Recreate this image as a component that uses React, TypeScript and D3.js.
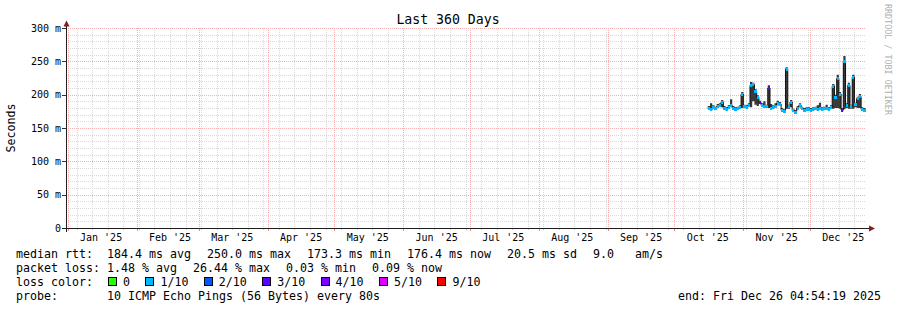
import React from "react";
import * as d3 from "d3";

const W = 897;
const H = 310;
const END = new Date(Date.UTC(2025, 11, 26, 4, 54, 19));
const START = new Date(END.getTime() - 360 * 864e5);
const SERIES_START = new Date(Date.UTC(2025, 9, 16));

const title = "Last 360 Days";
const yLabel = "Seconds";
const watermark = "RRDTOOL / TOBI OETIKER";
const yTicks = [0, 50, 100, 150, 200, 250, 300];

// daily median rtt (ms), starting Oct 16 2025
const median = [
  180, 178, 181, 179, 182, 184, 189, 180, 178, 181,
  184, 180, 178, 179, 181, 201, 182, 181, 184, 214,
  215, 205, 196, 188, 184, 183, 182, 210, 180, 181,
  183, 187, 186, 177, 175, 238, 182, 189, 176, 174,
  180, 184, 179, 177, 178, 178, 177, 178, 179, 178,
  180, 178, 179, 180, 178, 181, 213, 196, 224, 201,
  177, 250, 184, 214, 182, 226, 185, 194, 197, 178,
  177, 176.4,
];
const smokeLo = [
  178, 176, 179, 177, 180, 182, 181, 178, 176, 179,
  182, 178, 176, 177, 179, 180, 180, 179, 182, 181,
  190, 185, 183, 186, 182, 181, 180, 180, 178, 179,
  181, 184, 183, 175, 173, 179, 179, 181, 174, 172,
  178, 182, 177, 175, 176, 176, 175, 176, 177, 176,
  178, 176, 177, 178, 176, 179, 179, 180, 180, 179,
  175, 178, 180, 179, 179, 179, 181, 180, 180, 176,
  175, 174,
];
const smokeHi = [
  183, 187, 184, 182, 186, 187, 192, 183, 181, 184,
  193, 183, 181, 182, 184, 204, 185, 184, 187, 219,
  218, 208, 199, 191, 187, 190, 185, 214, 186, 184,
  187, 191, 189, 180, 178, 241, 185, 192, 179, 177,
  183, 187, 182, 180, 181, 181, 180, 181, 182, 184,
  188, 181, 182, 185, 181, 184, 216, 200, 230, 204,
  180, 258, 187, 218, 185, 230, 188, 197, 201, 181,
  180, 179,
];
const lossIdx = [
  1, 1, 1, 1, 1, 1, 1, 1, 1, 1,
  1, 1, 1, 1, 1, 1, 1, 1, 1, 1,
  1, 1, 1, 3, 1, 1, 1, 3, 1, 1,
  1, 1, 1, 1, 1, 1, 1, 1, 1, 1,
  1, 1, 1, 1, 1, 1, 1, 1, 1, 1,
  1, 1, 1, 1, 1, 1, 1, 1, 1, 1,
  3, 1, 1, 1, 1, 1, 1, 1, 1, 1,
  1, 1,
];

const lossLabels = ["0", "1/10", "2/10", "3/10", "4/10", "5/10", "9/10"];
const lossColors = ["#26ff00", "#00b8ff", "#0059ff", "#5e00ff", "#7e00ff", "#dd00ff", "#ff0000"];
const rttStats = ["median rtt:  184.4 ms avg", "250.0 ms max", "173.3 ms min", "176.4 ms now", "20.5 ms sd", "9.0   am/s"];
const lossStats = ["packet loss: 1.48 % avg", "26.44 % max", "0.03 % min", "0.09 % now"];
const lossColorLabel = "loss color:";
const probeText = "probe:       10 ICMP Echo Pings (56 Bytes) every 80s";
const endText = "end: Fri Dec 26 04:54:19 2025";

const MONO = "'DejaVu Sans Mono', monospace";
const L = 66, R = 866, T = 28, B = 228;
const CW = 7; // legend char advance
const LEG_FS = 11.63;
const AX_FS = 10;

export default function App() {
  const x = d3.scaleUtc().domain([START, END]).range([L, R]);
  const y = d3.scaleLinear().domain([0, 300]).range([B, T]);

  const days = median.map((_, i) => d3.utcDay.offset(SERIES_START, i));
  const xs = days.map((d) => x(d));
  const xNext = (i: number) => (i + 1 < xs.length ? xs[i + 1] : x(END));

  const minorY = d3.range(0, 301, 10).filter((v) => v % 50 !== 0);
  const weeks = d3.utcSunday.range(START, END);
  const months = d3.utcMonth.range(START, END);
  const monthLabels = d3.utcMonth
    .range(d3.utcMonth.floor(START), END)
    .map((m) => d3.utcDay.offset(m, 15))
    .filter((d) => d >= START && d <= END);
  const fmt = d3.utcFormat("%b '%y");

  const pts: [number, number][] = median.map((v, i) => [xs[i], y(v)]);
  pts.push([x(END), y(median[median.length - 1])]);
  const line = d3.line().curve(d3.curveStepAfter)(pts) || "";

  const areaPts = median.map((_, i) => i);
  areaPts.push(median.length - 1);
  const area =
    d3
      .area<number>()
      .curve(d3.curveStepAfter)
      .x((i, k) => (k < median.length ? xs[i] : x(END)))
      .y0((i) => y(smokeLo[i]))
      .y1((i) => y(smokeHi[i]))(areaPts) || "";

  const rowX = (items: string[]) => {
    const out: number[] = [];
    let cx = 16;
    items.forEach((s) => {
      out.push(cx);
      cx += s.length * CW + 16;
    });
    return out;
  };
  const rttX = rowX(rttStats);
  const lossX = rowX(lossStats);
  const boxes: { bx: number; tx: number }[] = [];
  let bx = 16 + lossColorLabel.length * CW + 15;
  lossLabels.forEach((s) => {
    const tx = bx + 15;
    boxes.push({ bx, tx });
    bx = tx + s.length * CW + 15.4;
  });

  const minorC = "#d9d9d9";
  const majorC = "#f3b0b0";

  return (
    <svg
      width={W}
      height={H}
      viewBox={`0 0 ${W} ${H}`}
      style={{ position: "absolute", left: 0, top: 0, display: "block", background: "#fff" }}
      fontFamily={MONO}
    >
      <rect x={0} y={0} width={W} height={H} fill="#fff" />
      <g shapeRendering="crispEdges" strokeWidth={1} strokeDasharray="1,1">
        {minorY.map((v) => (
          <line key={"my" + v} x1={L} x2={R} y1={Math.round(y(v)) + 0.5} y2={Math.round(y(v)) + 0.5} stroke={minorC} />
        ))}
        {weeks.map((d) => (
          <line key={"wx" + +d} x1={Math.round(x(d)) + 0.5} x2={Math.round(x(d)) + 0.5} y1={T} y2={B} stroke={minorC} />
        ))}
        {yTicks.filter((v) => v > 0).map((v) => (
          <line key={"My" + v} x1={L} x2={R} y1={Math.round(y(v)) + 0.5} y2={Math.round(y(v)) + 0.5} stroke={majorC} />
        ))}
        {months.map((d) => (
          <line key={"Mx" + +d} x1={Math.round(x(d)) + 0.5} x2={Math.round(x(d)) + 0.5} y1={T} y2={B} stroke={majorC} />
        ))}
      </g>
      <g shapeRendering="crispEdges">
        {weeks.map((d) => (
          <line key={"wt" + +d} x1={Math.round(x(d)) + 0.5} x2={Math.round(x(d)) + 0.5} y1={B} y2={B + 2} stroke="#c4c4c4" />
        ))}
        {months.map((d) => (
          <line key={"mt" + +d} x1={Math.round(x(d)) + 0.5} x2={Math.round(x(d)) + 0.5} y1={B} y2={B + 3} stroke="#e88c8c" />
        ))}
        {yTicks.map((v) => (
          <line key={"yt" + v} x1={L - 4} x2={L} y1={Math.round(y(v)) + 0.5} y2={Math.round(y(v)) + 0.5} stroke="#333" />
        ))}
      </g>
      <path d={area} fill="#3a3a3a" />
      <path d={line} fill="none" stroke="#111" strokeWidth={1} />
      <g shapeRendering="crispEdges">
        {median.map((v, i) => (
          <rect
            key={"b" + i}
            x={xs[i]}
            y={y(v) - 1.5}
            width={xNext(i) - xs[i]}
            height={3}
            fill={lossColors[lossIdx[i]]}
          />
        ))}
      </g>
      <g shapeRendering="crispEdges">
        <line x1={62} x2={870} y1={B + 0.5} y2={B + 0.5} stroke="#1f1f1f" />
        <line x1={L + 0.5} x2={L + 0.5} y1={B + 4} y2={23} stroke="#1f1f1f" />
      </g>
      <path d={`M869,${B - 2.5} L875,${B + 0.5} L869,${B + 3.5} Z`} fill="#7f1f1f" />
      <path d={`M${L - 2.5},26.5 L${L + 0.5},20.5 L${L + 3.5},26.5 Z`} fill="#7f1f1f" />
      {yTicks.map((v) => (
        <text key={"yl" + v} x={61} y={y(v) + 3.6} fontSize={AX_FS} textAnchor="end" fill="#000">
          {v === 0 ? "0" : `${v} m`}
        </text>
      ))}
      {monthLabels.map((d) => (
        <text key={"xl" + +d} x={x(d)} y={241} fontSize={AX_FS} textAnchor="middle" fill="#000">
          {fmt(d)}
        </text>
      ))}
      <text x={448} y={24} fontSize={13.2} textAnchor="middle" fill="#000">
        {title}
      </text>
      <text transform="translate(14.5,128) rotate(-90)" fontSize={LEG_FS} textAnchor="middle" fill="#000">
        {yLabel}
      </text>
      <text transform="translate(885,4) rotate(90)" fontSize={8.4} fill="#b0b0b0">
        {watermark}
      </text>
      <g fontSize={LEG_FS} fill="#000" style={{ whiteSpace: "pre" }}>
        {rttStats.map((s, i) => (
          <text key={"r" + i} x={rttX[i]} y={258} xmlSpace="preserve">
            {s}
          </text>
        ))}
        {lossStats.map((s, i) => (
          <text key={"l" + i} x={lossX[i]} y={272} xmlSpace="preserve">
            {s}
          </text>
        ))}
        <text x={16} y={286}>{lossColorLabel}</text>
        {boxes.map((b, i) => (
          <g key={"lc" + i}>
            <rect x={b.bx + 0.5} y={277.5} width={8} height={8} fill={lossColors[i]} stroke="#000" strokeWidth={1} shapeRendering="crispEdges" />
            <text x={b.tx} y={286}>{lossLabels[i]}</text>
          </g>
        ))}
        <text x={16} y={300} xmlSpace="preserve">{probeText}</text>
        <text x={881} y={300} textAnchor="end" xmlSpace="preserve">{endText}</text>
      </g>
    </svg>
  );
}
